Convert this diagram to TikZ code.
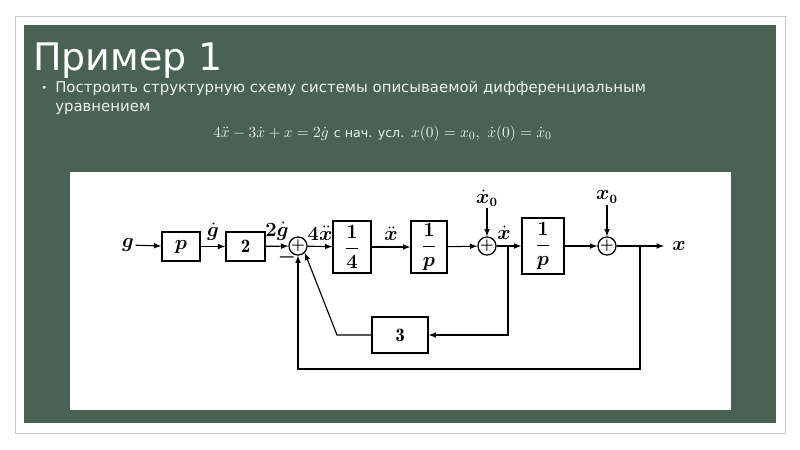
\documentclass[tikz,border=0pt]{standalone}
\usepackage{fontspec}
\usepackage{amsmath,bm}
\newfontfamily\slidefont{DejaVu Sans}
\usetikzlibrary{arrows}
\definecolor{boardgreen}{RGB}{73,98,83}
\definecolor{framegray}{RGB}{200,200,200}
\definecolor{chalk}{RGB}{236,240,236}
\tikzset{
  block/.style={draw,line width=0.9pt,inner sep=0pt,font=\fontsize{13.5}{15}\selectfont},
  summ/.style={draw,circle,line width=0.9pt,inner sep=0pt,minimum size=0.36cm,font=\fontsize{11}{11}\selectfont},
  sig/.style={font=\fontsize{13.5}{15}\selectfont,inner sep=1pt},
  link/.style={line width=0.8pt,->,>=latex}
}
\begin{document}
\begin{tikzpicture}[x=0.025cm,y=-0.025cm]
	\useasboundingbox (0,0) rectangle (800,449);
	\fill[white] (0,0) rectangle (800,449);
	\draw[framegray,line width=0.6pt] (15,16) rectangle (785,433);
	\fill[boardgreen] (24,25) rectangle (776,423);
	\fill[white] (70,172) rectangle (731,410);
	% slide text
	\node[anchor=base west,inner sep=0pt,text=white,font=\slidefont\fontsize{27}{30}\selectfont] (title) at (33,70) {Пример 1};
	\node[anchor=base west,inner sep=0pt,text=chalk,font=\slidefont\fontsize{7}{8}\selectfont] (bullet) at (41,91) {•};
	\node[anchor=base west,inner sep=0pt,text=chalk,align=left,font=\slidefont\fontsize{10.6}{13.5}\selectfont] (task) at (55,111) {Построить структурную схему системы описываемой дифференциальным\\уравнением};
	\node[anchor=base west,inner sep=0pt,text=chalk,font=\fontsize{11}{12}\selectfont] (eq) at (213,137) {$4\ddot x-3\dot x+x=2\dot g$ {\slidefont\fontsize{9}{10}\selectfont с нач. усл.} $x(0)=x_0,\ \dot x(0)=\dot x_0$};
	% blocks
	\node[block,minimum width=0.95cm,minimum height=0.72cm] (p) at (181,246.5) {$\bm{p}$};
	\node[block,minimum width=0.98cm,minimum height=0.72cm] (two) at (245.5,246.5) {$\mathbf{2}$};
	\node[block,minimum width=0.95cm,minimum height=1.3cm] (quarter) at (352,247) {$\bm{\dfrac{1}{4}}$};
	\node[block,minimum width=0.9cm,minimum height=1.3cm] (intA) at (429,247) {$\bm{\dfrac{1}{p}}$};
	\node[block,minimum width=1.05cm,minimum height=1.4cm] (intB) at (543,246) {$\bm{\dfrac{1}{p}}$};
	\node[block,minimum width=1.4cm,minimum height=0.9cm] (three) at (400,335) {$\mathbf{3}$};
	% summing points
	\node[summ] (s1) at (298,246) {$\bm{+}$};
	\node[summ] (s2) at (487,246) {$\bm{+}$};
	\node[summ] (s3) at (607,246) {$\bm{+}$};
	% signals
	\node[sig] (gin) at (128,245) {$\bm{g}$};
	\node[sig] (dx0) at (487,198) {$\bm{\dot x_0}$};
	\node[sig] (x0) at (607,197) {$\bm{x_0}$};
	\node[sig] (xout) at (679,246) {$\bm{x}$};
	\node[sig] (minus) at (287,257) {$\bm{-}$};
	\coordinate (xend) at (664,246);
	\coordinate (b1) at (508,246);
	\coordinate (b2) at (640,246);
	\coordinate (c1) at (640,369);
	\coordinate (c2) at (337,335);
	% connections
	\draw[link] (gin) -- (p);
	\draw[link] (p) -- (two) node[sig,midway,above=3pt] (gdot) {$\bm{\dot g}$};
	\draw[link] (two) -- (s1) node[sig,midway,above=3pt] (tgdot) {$\bm{2\dot g}$};
	\draw[link] (s1) -- (quarter) node[sig,midway,above=3pt] (fxdd) {$\bm{4\ddot x}$};
	\draw[link] (quarter) -- (intA) node[sig,midway,above=3pt] (xdd) {$\bm{\ddot x}$};
	\draw[link] (intA) -- (s2);
	\draw[link] (dx0) -- (s2);
	\draw[link] (s2) -- (intB) node[sig,pos=0.3,above=3pt] (xd) {$\bm{\dot x}$};
	\draw[link] (intB) -- (s3);
	\draw[link] (x0) -- (s3);
	\draw[link] (s3) -- (xend);
	\draw[link] (b1) |- (three.east);
	\draw[link] (three.west) -- (c2) -- (s1.south east);
	\draw[link] (b2) -- (c1) -| (s1.south);
\end{tikzpicture}
\end{document}
